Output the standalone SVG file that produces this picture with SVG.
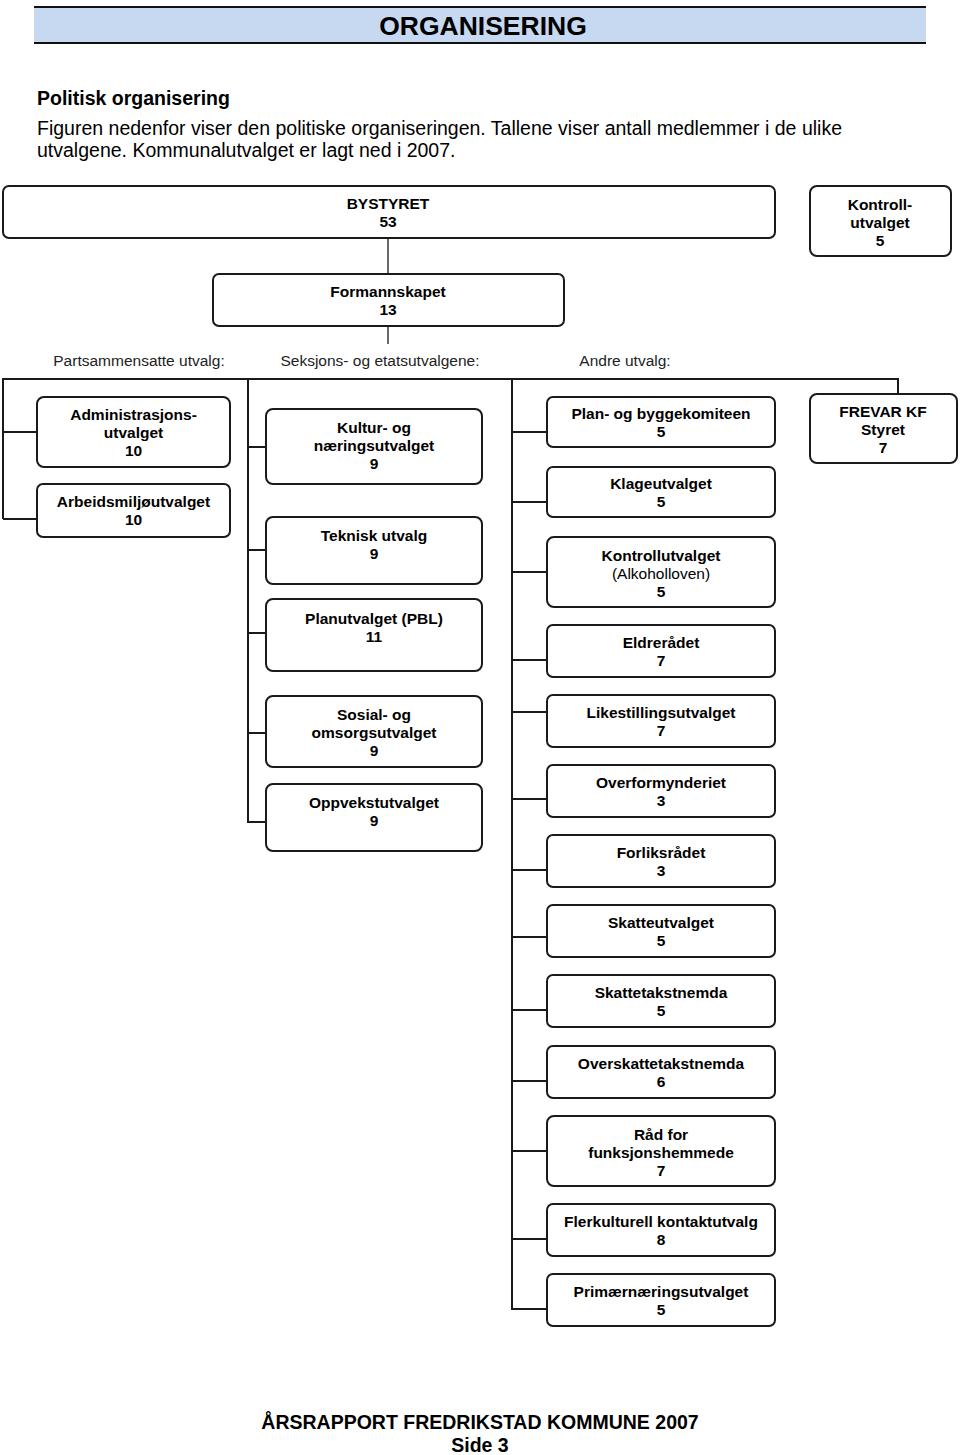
<svg xmlns="http://www.w3.org/2000/svg" width="960" height="1455" viewBox="0 0 960 1455">
<style>
  text { font-family: "Liberation Sans", Arial, sans-serif; fill: #000; }
  .box { fill: #fff; stroke: #1a1a1a; stroke-width: 2; }
  .conn { stroke: #1a1a1a; stroke-width: 2; fill: none; }
  .thin { stroke: #1a1a1a; stroke-width: 1.3; fill: none; }
  .t { font-size: 15.5px; font-weight: bold; text-anchor: middle; }
  .r { font-size: 15.5px; font-weight: normal; text-anchor: middle; }
  .lbl { font-size: 15.5px; text-anchor: middle; fill: #222; }
</style>
<rect width="960" height="1455" fill="#fff"/>
<g id="header">
  <rect x="34" y="7" width="892" height="36" fill="#c6d9f0"/>
  <line x1="34" y1="7" x2="926" y2="7" stroke="#111" stroke-width="2.2"/>
  <line x1="34" y1="43" x2="926" y2="43" stroke="#111" stroke-width="2.2"/>
  <text x="483" y="35" font-size="26.5" font-weight="bold" text-anchor="middle">ORGANISERING</text>
  <text x="37" y="105" font-size="19.5" font-weight="bold">Politisk organisering</text>
  <text x="37" y="135" font-size="19.5">Figuren nedenfor viser den politiske organiseringen. Tallene viser antall medlemmer i de ulike</text>
  <text x="37" y="157" font-size="19.5">utvalgene. Kommunalutvalget er lagt ned i 2007.</text>
</g>
<g id="connectors">
  <line class="thin" x1="388" y1="238" x2="388" y2="274"/>
  <line class="thin" x1="388" y1="326" x2="388" y2="344"/>
  <polyline class="conn" points="3,519 3,379 898,379 898,394"/>
  <line class="conn" x1="3" y1="432" x2="37" y2="432"/>
  <line class="conn" x1="3" y1="519" x2="37" y2="519"/>
  <line class="conn" x1="248" y1="379" x2="248" y2="822"/>
  <line class="conn" x1="248" y1="447" x2="266" y2="447"/>
  <line class="conn" x1="248" y1="550" x2="266" y2="550"/>
  <line class="conn" x1="248" y1="633" x2="266" y2="633"/>
  <line class="conn" x1="248" y1="733" x2="266" y2="733"/>
  <line class="conn" x1="247" y1="822" x2="266" y2="822"/>
  <line class="conn" x1="512" y1="379" x2="512" y2="1310"/>
  <line class="conn" x1="512" y1="432" x2="547" y2="432"/>
  <line class="conn" x1="512" y1="502" x2="547" y2="502"/>
  <line class="conn" x1="512" y1="572" x2="547" y2="572"/>
  <line class="conn" x1="512" y1="660" x2="547" y2="660"/>
  <line class="conn" x1="512" y1="712" x2="547" y2="712"/>
  <line class="conn" x1="512" y1="799" x2="547" y2="799"/>
  <line class="conn" x1="512" y1="870" x2="547" y2="870"/>
  <line class="conn" x1="512" y1="937" x2="547" y2="937"/>
  <line class="conn" x1="512" y1="1010" x2="547" y2="1010"/>
  <line class="conn" x1="512" y1="1081" x2="547" y2="1081"/>
  <line class="conn" x1="512" y1="1151" x2="547" y2="1151"/>
  <line class="conn" x1="512" y1="1239" x2="547" y2="1239"/>
  <line class="conn" x1="511" y1="1309" x2="547" y2="1309"/>
</g>
<g id="labels">
  <text class="lbl" x="139" y="366">Partsammensatte utvalg:</text>
  <text class="lbl" x="380" y="366">Seksjons- og etatsutvalgene:</text>
  <text class="lbl" x="625" y="366">Andre utvalg:</text>
</g>
<g id="bystyret">
  <rect class="box" x="3" y="186" width="772" height="52" rx="6"/>
  <text class="t" x="388" y="209">BYSTYRET</text>
  <text class="t" x="388" y="227">53</text>
</g>
<g id="kontrollutvalget">
  <rect class="box" x="810" y="186" width="141" height="70" rx="7"/>
  <text class="t" x="880" y="210">Kontroll-</text>
  <text class="t" x="880" y="228">utvalget</text>
  <text class="t" x="880" y="246">5</text>
</g>
<g id="formannskapet">
  <rect class="box" x="213" y="274" width="351" height="52" rx="6"/>
  <text class="t" x="388" y="297">Formannskapet</text>
  <text class="t" x="388" y="315">13</text>
</g>
<g id="administrasjonsutvalget">
  <rect class="box" x="37" y="397" width="193" height="70" rx="7"/>
  <text class="t" x="133.5" y="420">Administrasjons-</text>
  <text class="t" x="133.5" y="438">utvalget</text>
  <text class="t" x="133.5" y="456">10</text>
</g>
<g id="arbeidsmiljoutvalget">
  <rect class="box" x="37" y="484" width="193" height="53" rx="6"/>
  <text class="t" x="133.5" y="507">Arbeidsmiljøutvalget</text>
  <text class="t" x="133.5" y="525">10</text>
</g>
<g id="kultur">
  <rect class="box" x="266" y="409" width="216" height="75" rx="7"/>
  <text class="t" x="374" y="433">Kultur- og</text>
  <text class="t" x="374" y="451">næringsutvalget</text>
  <text class="t" x="374" y="469">9</text>
</g>
<g id="teknisk">
  <rect class="box" x="266" y="517" width="216" height="67" rx="7"/>
  <text class="t" x="374" y="541">Teknisk utvalg</text>
  <text class="t" x="374" y="559">9</text>
</g>
<g id="planutvalget">
  <rect class="box" x="266" y="599" width="216" height="72" rx="7"/>
  <text class="t" x="374" y="624">Planutvalget (PBL)</text>
  <text class="t" x="374" y="642">11</text>
</g>
<g id="sosial">
  <rect class="box" x="266" y="696" width="216" height="71" rx="7"/>
  <text class="t" x="374" y="720">Sosial- og</text>
  <text class="t" x="374" y="738">omsorgsutvalget</text>
  <text class="t" x="374" y="756">9</text>
</g>
<g id="oppvekst">
  <rect class="box" x="266" y="784" width="216" height="67" rx="7"/>
  <text class="t" x="374" y="808">Oppvekstutvalget</text>
  <text class="t" x="374" y="826">9</text>
</g>
<g id="planbygg">
  <rect class="box" x="547" y="397" width="228" height="50" rx="6"/>
  <text class="t" x="661" y="419">Plan- og byggekomiteen</text>
  <text class="t" x="661" y="437">5</text>
</g>
<g id="klage">
  <rect class="box" x="547" y="467" width="228" height="50" rx="6"/>
  <text class="t" x="661" y="489">Klageutvalget</text>
  <text class="t" x="661" y="507">5</text>
</g>
<g id="kontroll-alkohol">
  <rect class="box" x="547" y="537" width="228" height="70" rx="7"/>
  <text class="t" x="661" y="561">Kontrollutvalget</text>
  <text class="r" x="661" y="579">(Alkoholloven)</text>
  <text class="t" x="661" y="597">5</text>
</g>
<g id="eldreradet">
  <rect class="box" x="547" y="625" width="228" height="52" rx="6"/>
  <text class="t" x="661" y="648">Eldrerådet</text>
  <text class="t" x="661" y="666">7</text>
</g>
<g id="likestilling">
  <rect class="box" x="547" y="695" width="228" height="52" rx="6"/>
  <text class="t" x="661" y="718">Likestillingsutvalget</text>
  <text class="t" x="661" y="736">7</text>
</g>
<g id="overformynderiet">
  <rect class="box" x="547" y="765" width="228" height="52" rx="6"/>
  <text class="t" x="661" y="788">Overformynderiet</text>
  <text class="t" x="661" y="806">3</text>
</g>
<g id="forliksradet">
  <rect class="box" x="547" y="835" width="228" height="52" rx="6"/>
  <text class="t" x="661" y="858">Forliksrådet</text>
  <text class="t" x="661" y="876">3</text>
</g>
<g id="skatteutvalget">
  <rect class="box" x="547" y="905" width="228" height="52" rx="6"/>
  <text class="t" x="661" y="928">Skatteutvalget</text>
  <text class="t" x="661" y="946">5</text>
</g>
<g id="skattetakstnemda">
  <rect class="box" x="547" y="975" width="228" height="52" rx="6"/>
  <text class="t" x="661" y="998">Skattetakstnemda</text>
  <text class="t" x="661" y="1016">5</text>
</g>
<g id="overskattetakstnemda">
  <rect class="box" x="547" y="1046" width="228" height="52" rx="6"/>
  <text class="t" x="661" y="1069">Overskattetakstnemda</text>
  <text class="t" x="661" y="1087">6</text>
</g>
<g id="rad-funksjonshemmede">
  <rect class="box" x="547" y="1116" width="228" height="70" rx="7"/>
  <text class="t" x="661" y="1140">Råd for</text>
  <text class="t" x="661" y="1158">funksjonshemmede</text>
  <text class="t" x="661" y="1176">7</text>
</g>
<g id="flerkulturell">
  <rect class="box" x="547" y="1204" width="228" height="52" rx="6"/>
  <text class="t" x="661" y="1227">Flerkulturell kontaktutvalg</text>
  <text class="t" x="661" y="1245">8</text>
</g>
<g id="primaernaering">
  <rect class="box" x="547" y="1274" width="228" height="52" rx="6"/>
  <text class="t" x="661" y="1297">Primærnæringsutvalget</text>
  <text class="t" x="661" y="1315">5</text>
</g>
<g id="frevar">
  <rect class="box" x="810" y="394" width="147" height="69" rx="7"/>
  <text class="t" x="883" y="417">FREVAR KF</text>
  <text class="t" x="883" y="435">Styret</text>
  <text class="t" x="883" y="453">7</text>
</g>
<g id="footer">
  <text x="480" y="1429" font-size="19.5" font-weight="bold" text-anchor="middle">ÅRSRAPPORT FREDRIKSTAD KOMMUNE 2007</text>
  <text x="480" y="1452" font-size="19.5" font-weight="bold" text-anchor="middle">Side 3</text>
</g>
</svg>
